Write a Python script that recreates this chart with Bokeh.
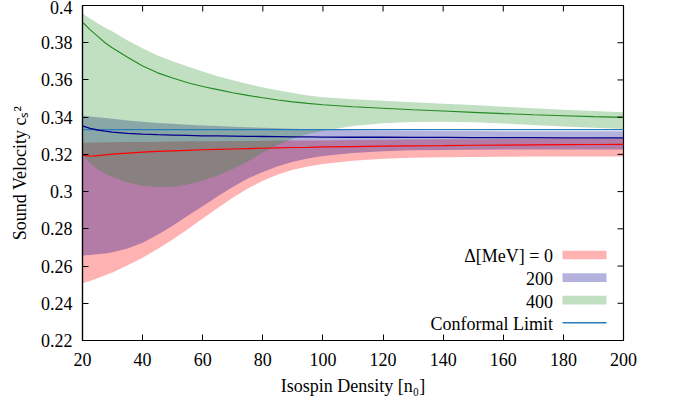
from bokeh.plotting import figure
from bokeh.models import FixedTicker, Range1d, Label, BoxAnnotation
from bokeh.embed import file_html
from bokeh.resources import INLINE

# ---- data ----
density = [20, 22.5, 25, 27.5, 30, 35, 40, 45, 50, 55, 60, 65, 70, 75, 80, 85, 90, 95,
           100, 110, 120, 130, 140, 150, 160, 170, 180, 190, 200]

d0_lower = [0.2508, 0.2520, 0.2535, 0.2550, 0.2565, 0.2605, 0.2645, 0.2692, 0.2743, 0.2798,
            0.2855, 0.2912, 0.2967, 0.3017, 0.3058, 0.3092, 0.3117, 0.3135, 0.3148, 0.3166,
            0.3177, 0.3182, 0.3185, 0.3186, 0.3187, 0.3188, 0.3188, 0.3189, 0.3189]
d0_upper = [0.3263, 0.3264, 0.3264, 0.3265, 0.3265, 0.3266, 0.3267, 0.3268, 0.3269, 0.3270,
            0.3270, 0.3271, 0.3272, 0.3272, 0.3273, 0.3274, 0.3274, 0.3275, 0.3275, 0.3277,
            0.3278, 0.3280, 0.3281, 0.3282, 0.3283, 0.3284, 0.3285, 0.3286, 0.3287]
d0_mid = [0.3196, 0.3190, 0.3193, 0.3197, 0.3201, 0.3207, 0.3212, 0.3216, 0.3219, 0.3222,
          0.3225, 0.3227, 0.3229, 0.3231, 0.3233, 0.3235, 0.3237, 0.3238, 0.3240, 0.3242,
          0.3244, 0.3246, 0.3247, 0.3249, 0.3250, 0.3251, 0.3252, 0.3253, 0.3254]

d200_lower = [0.2657, 0.2659, 0.2663, 0.2668, 0.2674, 0.2695, 0.2725, 0.2768, 0.2817, 0.2870,
              0.2922, 0.2975, 0.3025, 0.3070, 0.3106, 0.3136, 0.3160, 0.3178, 0.3192, 0.3208,
              0.3217, 0.3222, 0.3224, 0.3225, 0.3226, 0.3226, 0.3226, 0.3226, 0.3226]
d200_upper = [0.3409, 0.3404, 0.3399, 0.3395, 0.3391, 0.3382, 0.3375, 0.3369, 0.3364, 0.3359,
              0.3355, 0.3352, 0.3349, 0.3346, 0.3343, 0.3340, 0.3338, 0.3335, 0.3333, 0.3330,
              0.3328, 0.3327, 0.3326, 0.3326, 0.3325, 0.3325, 0.3325, 0.3325, 0.3325]
d200_mid = [0.3353, 0.3340, 0.3331, 0.3325, 0.3320, 0.3313, 0.3309, 0.3306, 0.3304, 0.3302,
            0.3300, 0.3299, 0.3298, 0.3297, 0.3296, 0.3295, 0.3294, 0.3294, 0.3293, 0.3292,
            0.3292, 0.3291, 0.3291, 0.3290, 0.3290, 0.3290, 0.3289, 0.3289, 0.3289]

d400_lower = [0.3195, 0.3152, 0.3120, 0.3097, 0.3078, 0.3049, 0.3031, 0.3024, 0.3026, 0.3038,
              0.3058, 0.3087, 0.3122, 0.3162, 0.3210, 0.3252, 0.3285, 0.3309, 0.3326, 0.3352,
              0.3367, 0.3374, 0.3376, 0.3373, 0.3366, 0.3358, 0.3350, 0.3343, 0.3337]
d400_upper = [0.3957, 0.3930, 0.3905, 0.3880, 0.3860, 0.3812, 0.3770, 0.3732, 0.3700, 0.3672,
              0.3645, 0.3620, 0.3598, 0.3578, 0.3560, 0.3545, 0.3530, 0.3517, 0.3507, 0.3496,
              0.3488, 0.3480, 0.3472, 0.3465, 0.3456, 0.3448, 0.3440, 0.3433, 0.3427]
d400_mid = [0.3910, 0.3870, 0.3835, 0.3800, 0.3772, 0.3722, 0.3675, 0.3638, 0.3610, 0.3585,
            0.3565, 0.3548, 0.3531, 0.3517, 0.3504, 0.3492, 0.3482, 0.3474, 0.3467, 0.3456,
            0.3448, 0.3440, 0.3433, 0.3426, 0.3419, 0.3413, 0.3408, 0.3403, 0.3399]

conformal_value = 1.0 / 3.0
conformal = [conformal_value for _ in density]

x_ticks = [20, 40, 60, 80, 100, 120, 140, 160, 180, 200]
y_ticks = [0.22, 0.24, 0.26, 0.28, 0.30, 0.32, 0.34, 0.36, 0.38, 0.40]
y_tick_labels = ["0.22", "0.24", "0.26", "0.28", "0.3", "0.32", "0.34", "0.36", "0.38", "0.4"]
legend_labels = ["\u0394[MeV] = 0", "200", "400", "Conformal Limit"]

X_RANGE = (20, 200)
Y_RANGE = (0.22, 0.40)

FONT = "Liberation Serif"
FS = "18px"

RED = "#ff0000"
BLUE = "#00008b"
GREEN = "#228b22"
CONF = "#2b7bba"

FRAME_W, FRAME_H = 541.0, 335.0
TICK_PX = 6.0

p = figure(width=675, height=402, output_backend="svg", toolbar_location=None,
           x_range=Range1d(*X_RANGE), y_range=Range1d(*Y_RANGE),
           min_border_left=82, min_border_right=52, min_border_top=5, min_border_bottom=62)
p.background_fill_color = "white"
p.border_fill_color = "white"
p.outline_line_color = "black"
p.outline_line_width = 1.2
p.grid.visible = False

# bands
p.varea(x=density, y1=d0_lower, y2=d0_upper, fill_color=RED, fill_alpha=0.3)
p.varea(x=density, y1=d200_lower, y2=d200_upper, fill_color=BLUE, fill_alpha=0.3)
p.varea(x=density, y1=d400_lower, y2=d400_upper, fill_color=GREEN, fill_alpha=0.28)

# center lines
p.line(density, d400_mid, line_color=GREEN, line_width=1.1)
p.line(density, conformal, line_color=CONF, line_width=1.3)
p.line(density, d200_mid, line_color=BLUE, line_width=1.3)
p.line(density, d0_mid, line_color=RED, line_width=1.2)

# axes
xa = p.xaxis[0]
ya = p.yaxis[0]
xa.ticker = FixedTicker(ticks=x_ticks)
ya.ticker = FixedTicker(ticks=y_ticks)
ya.major_label_overrides = {v: s for v, s in zip(y_ticks, y_tick_labels)}
xa.axis_label = "Isospin Density [n\u2080]"
ya.axis_label = "Sound Velocity c\u209b\u00b2"
for ax in (xa, ya):
    ax.major_tick_in = int(TICK_PX)
    ax.major_tick_out = 0
    ax.minor_tick_line_color = None
    ax.axis_line_width = 1.2
    ax.major_tick_line_width = 1
    ax.major_label_text_font = FONT
    ax.major_label_text_font_size = FS
    ax.major_label_text_color = "black"
    ax.axis_label_text_font = FONT
    ax.axis_label_text_font_size = FS
    ax.axis_label_text_font_style = "normal"
    ax.axis_label_text_color = "black"
xa.major_label_standoff = 12
xa.axis_label_standoff = 7
ya.major_label_standoff = 10
ya.axis_label_standoff = 8

# mirrored inward ticks on top and right edges (tick positions from the tick lists)
dy_tick = TICK_PX * (Y_RANGE[1] - Y_RANGE[0]) / FRAME_H
dx_tick = TICK_PX * (X_RANGE[1] - X_RANGE[0]) / FRAME_W
top_x = x_ticks[1:-1]
p.segment(x0=top_x, y0=[Y_RANGE[1]] * len(top_x), x1=top_x,
          y1=[Y_RANGE[1] - dy_tick] * len(top_x), line_color="black", line_width=1)
right_y = y_ticks[1:-1]
p.segment(x0=[X_RANGE[1]] * len(right_y), y0=right_y, x1=[X_RANGE[1] - dx_tick] * len(right_y),
          y1=right_y, line_color="black", line_width=1)

# legend (gnuplot style: text right-aligned, sample to its right)
def fx(px):
    return X_RANGE[0] + (px / FRAME_W) * (X_RANGE[1] - X_RANGE[0])
def fy(py):
    return Y_RANGE[1] - (py / FRAME_H) * (Y_RANGE[1] - Y_RANGE[0])

row0, row_gap = 249.5, 22.6
text_right, sw_left, sw_right, sw_h = 470.5, 480.0, 524.0, 8.7
band_colors = [(RED, 0.3), (BLUE, 0.3), (GREEN, 0.28)]
for i, lab in enumerate(legend_labels):
    cy = row0 + i * row_gap
    p.add_layout(Label(x=fx(text_right), y=fy(cy + 1), text=lab, text_align="right",
                       text_baseline="middle", text_font=FONT, text_font_size=FS,
                       text_color="black"))
    if i < 3:
        c, a = band_colors[i]
        p.add_layout(BoxAnnotation(left=fx(sw_left), right=fx(sw_right),
                                   bottom=fy(cy + sw_h / 2), top=fy(cy - sw_h / 2),
                                   fill_color=c, fill_alpha=a, line_color=None))
    else:
        p.add_layout(BoxAnnotation(left=fx(sw_left), right=fx(sw_right),
                                   bottom=fy(cy + 0.7), top=fy(cy - 0.7),
                                   fill_color=CONF, fill_alpha=1.0, line_color=None))

open("out.html", "w").write(file_html(p, INLINE))
